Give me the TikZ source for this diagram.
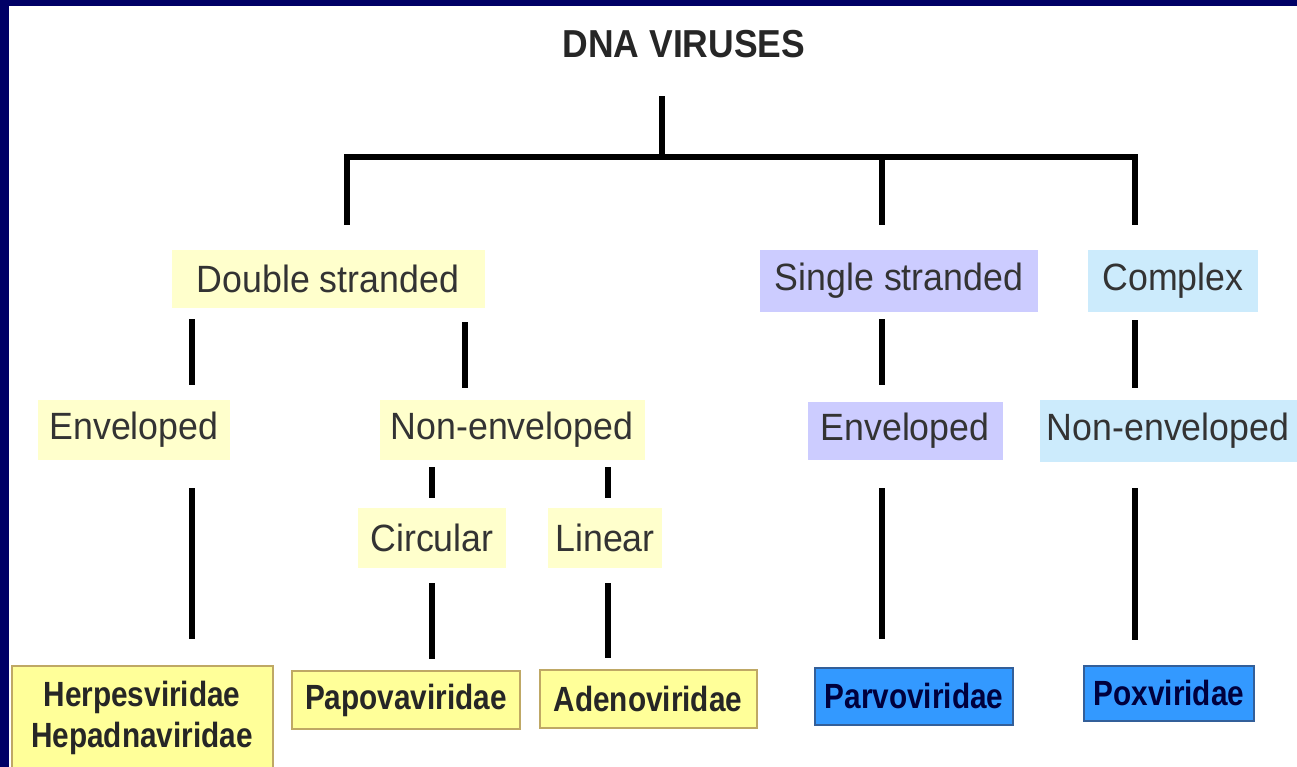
\documentclass[tikz,border=0pt]{standalone}
\usepackage{fontspec}
\setmainfont{Liberation Sans}
\newfontfamily\catfont[FakeStretch=0.94]{Liberation Sans}
\newfontfamily\famfont[FakeStretch=0.85]{Liberation Sans}
\newfontfamily\titlefont[FakeStretch=0.91]{Liberation Sans}
\usepackage{xcolor}
\usepackage{tikz}
\usetikzlibrary{positioning}

\definecolor{frameblue}{HTML}{000066}
\definecolor{paleyellow}{HTML}{FFFFCC}
\definecolor{famyellow}{HTML}{FFFF99}
\definecolor{famedge}{HTML}{BFA865}
\definecolor{lavender}{HTML}{CCCCFF}
\definecolor{paleblue}{HTML}{CCEBFC}
\definecolor{famblue}{HTML}{3399FF}
\definecolor{famblueedge}{HTML}{335F99}
\definecolor{labeltext}{HTML}{333333}

\begin{document}
\begin{tikzpicture}[
  x=1pt,y=-1pt,
  cat/.style={inner sep=0pt,text=labeltext,font=\catfont\fontsize{38}{40}\selectfont},
  fam/.style={draw=famedge,line width=2pt,fill=famyellow,inner sep=0pt,align=center,
    font=\famfont\bfseries\fontsize{35}{41}\selectfont,text=black!85},
  famb/.style={fam,draw=famblueedge,fill=famblue,text=frameblue!60!black},
  link/.style={line width=5.5pt}
]
\useasboundingbox (0,0) rectangle (1297,767);
\fill[frameblue] (0,0) rectangle (1297,767);
\fill[white] (9,6) rectangle (1297,767);

\node[font=\titlefont\bfseries\fontsize{39}{42}\selectfont,text=black!85] (title) at (684,44) {DNA VIRUSES};

% first split
\node[cat,fill=paleyellow,minimum width=313,minimum height=58] (ds) at (328,279) {Double stranded};
\node[cat,fill=lavender,minimum width=278,minimum height=62] (ss) at (899,281) {Single stranded};
\node[cat,fill=paleblue,minimum width=170,minimum height=62] (cx) at (1173,281) {Complex};

% envelope
\node[cat,fill=paleyellow,minimum width=192,minimum height=60] (envL) at (134,430) {Enveloped};
\node[cat,fill=paleyellow,minimum width=265,minimum height=60] (nenvL) at (512,430) {Non-enveloped};
\node[cat,fill=lavender,minimum width=195,minimum height=58] (envR) at (905,431) {Enveloped};
\node[cat,fill=paleblue,minimum width=257,minimum height=62] (nenvR) at (1168,431) {Non-enveloped};

% genome shape
\node[cat,fill=paleyellow,minimum width=148,minimum height=60] (circ) at (432,538) {Circular};
\node[cat,fill=paleyellow,minimum width=114,minimum height=60] (lin) at (605,538) {Linear};

% families
\node[fam,minimum width=261,minimum height=104] (herp) at (142,718) {Herpesviridae\\Hepadnaviridae};
\node[fam,minimum width=228,minimum height=58] (papo) at (406,700) {Papovaviridae};
\node[fam,minimum width=217,minimum height=58] (adeno) at (648,699) {Adenoviridae};
\node[famb,minimum width=198,minimum height=57] (parvo) at (914,696) {Parvoviridae};
\node[famb,minimum width=170,minimum height=55] (pox) at (1169,693) {Poxviridae};

% line columns
\coordinate (hub) at (662,157);
\coordinate (colA) at (192,0);
\coordinate (colB) at (347,0);
\coordinate (colC) at (465,0);
\coordinate (colD) at (432,0);
\coordinate (colE) at (608,0);
\coordinate (colF) at (882,0);
\coordinate (colG) at (1135,0);

\draw[link,shorten <=35pt] (title.south -| hub) -- (hub);
\draw[link,shorten <=25pt,shorten >=25pt] (ds.north -| colB) |- (hub) -| (cx.north -| colG);
\draw[link,shorten >=25pt] (hub -| colF) -- (ss.north -| colF);

\draw[link,shorten <=11pt,shorten >=15pt] (ds.south -| colA) -- (envL.north -| colA);
\draw[link,shorten <=14pt,shorten >=12pt] (ds.south -| colC) -- (nenvL.north -| colC);
\draw[link,shorten <=7pt,shorten >=17pt] (ss.south -| colF) -- (envR.north -| colF);
\draw[link,shorten <=8pt,shorten >=12pt] (cx.south -| colG) -- (nenvR.north -| colG);

\draw[link,shorten <=7pt,shorten >=10pt] (nenvL.south -| colD) -- (circ.north -| colD);
\draw[link,shorten <=7pt,shorten >=10pt] (nenvL.south -| colE) -- (lin.north -| colE);

\draw[link,shorten <=28pt,shorten >=26pt] (envL.south -| colA) -- (herp.north -| colA);
\draw[link,shorten <=15pt,shorten >=11pt] (circ.south -| colD) -- (papo.north -| colD);
\draw[link,shorten <=15pt,shorten >=11pt] (lin.south -| colE) -- (adeno.north -| colE);
\draw[link,shorten <=28pt,shorten >=28pt] (envR.south -| colF) -- (parvo.north -| colF);
\draw[link,shorten <=26pt,shorten >=25pt] (nenvR.south -| colG) -- (pox.north -| colG);
\end{tikzpicture}
\end{document}
